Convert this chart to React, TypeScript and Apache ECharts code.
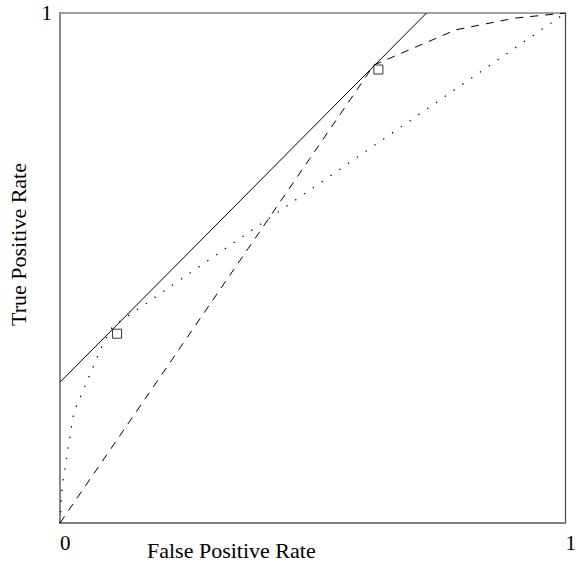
import React, { useEffect, useRef } from "react";
import * as echarts from "echarts";

// Iso-performance line (slope 1)
const isoLine: [number, number][] = [
  [0, 0.276],
  [0.725, 1],
];
// Dashed ROC curve
const dashedRoc: [number, number][] = [
  [0, 0],
  [0.621, 0.898],
  [0.783, 0.967],
  [0.9, 0.99],
  [1, 1],
];
// Dotted ROC curve
const dottedRoc: [number, number][] = [
  [0, 0],
  [0.004, 0.07],
  [0.027, 0.216],
  [0.084, 0.349],
  [0.104, 0.385],
  [1, 1],
];
// Optimal operating points (squares)
const optimalPoints: [number, number][] = [
  [0.104, 0.38],
  [0.621, 0.898],
];
const xTickLabels = ["0", "1"];
const yTickLabels = ["0", "1"];
const xAxisTitle = "False Positive Rate";
const yAxisTitle = "True Positive Rate";

const FONT = "'Liberation Serif', 'Times New Roman', serif";

export default function App() {
  const ref = useRef<HTMLDivElement>(null);
  useEffect(() => {
    if (!ref.current) return;
    const chart = echarts.init(ref.current, undefined, { renderer: "svg" });
    chart.setOption({
      animation: false,
      backgroundColor: "#fff",
      grid: {
        left: 60,
        top: 13,
        width: 511,
        height: 510,
        show: true,
        borderColor: "#444",
        borderWidth: 1.2,
        containLabel: false,
      },
      xAxis: {
        type: "value",
        min: 0,
        max: 1,
        interval: 1,
        axisLine: { show: true, lineStyle: { color: "#777", width: 1.5 } },
        axisTick: { show: false },
        splitLine: { show: false },
        axisLabel: {
          fontFamily: FONT,
          fontSize: 21,
          color: "#000",
          margin: 9,
          align: "left",
          formatter: (v: number) => (v === 0 ? xTickLabels[0] : xTickLabels[1]),
        },
      },
      yAxis: {
        type: "value",
        min: 0,
        max: 1,
        interval: 1,
        axisLine: { show: true, lineStyle: { color: "#888", width: 2 } },
        axisTick: { show: false },
        splitLine: { show: false },
        axisLabel: {
          fontFamily: FONT,
          fontSize: 21,
          color: "#000",
          margin: 8,
          padding: [3, 0, 0, 0],
          formatter: (v: number) => (v === 1 ? yTickLabels[1] : ""),
        },
      },
      graphic: [
        {
          type: "text",
          left: 147,
          top: 539,
          style: { text: xAxisTitle, font: `22px ${FONT}`, fill: "#000" },
        },
        {
          type: "text",
          x: 7,
          y: 326,
          rotation: Math.PI / 2,
          style: { text: yAxisTitle, font: `22px ${FONT}`, fill: "#000" },
        },
      ],
      series: [
        {
          type: "line",
          data: isoLine,
          symbol: "none",
          lineStyle: { color: "#000", width: 1, type: "solid" },
          z: 3,
        },
        {
          type: "line",
          data: dashedRoc,
          symbol: "none",
          lineStyle: { color: "#000", width: 1, type: [8, 7] },
          z: 3,
        },
        {
          type: "line",
          data: dottedRoc,
          symbol: "none",
          lineStyle: { color: "#000", width: 1.3, type: [1.3, 9.4] },
          z: 3,
        },
        {
          type: "scatter",
          data: optimalPoints,
          symbol: "rect",
          symbolSize: 9,
          symbolOffset: [4.5, 4.5],
          itemStyle: { color: "#fff", borderColor: "#000", borderWidth: 1 },
          z: 5,
        },
      ],
    });
    return () => chart.dispose();
  }, []);
  return (
    <div
      ref={ref}
      style={{ position: "fixed", left: 0, top: 0, width: 579, height: 562 }}
    />
  );
}
